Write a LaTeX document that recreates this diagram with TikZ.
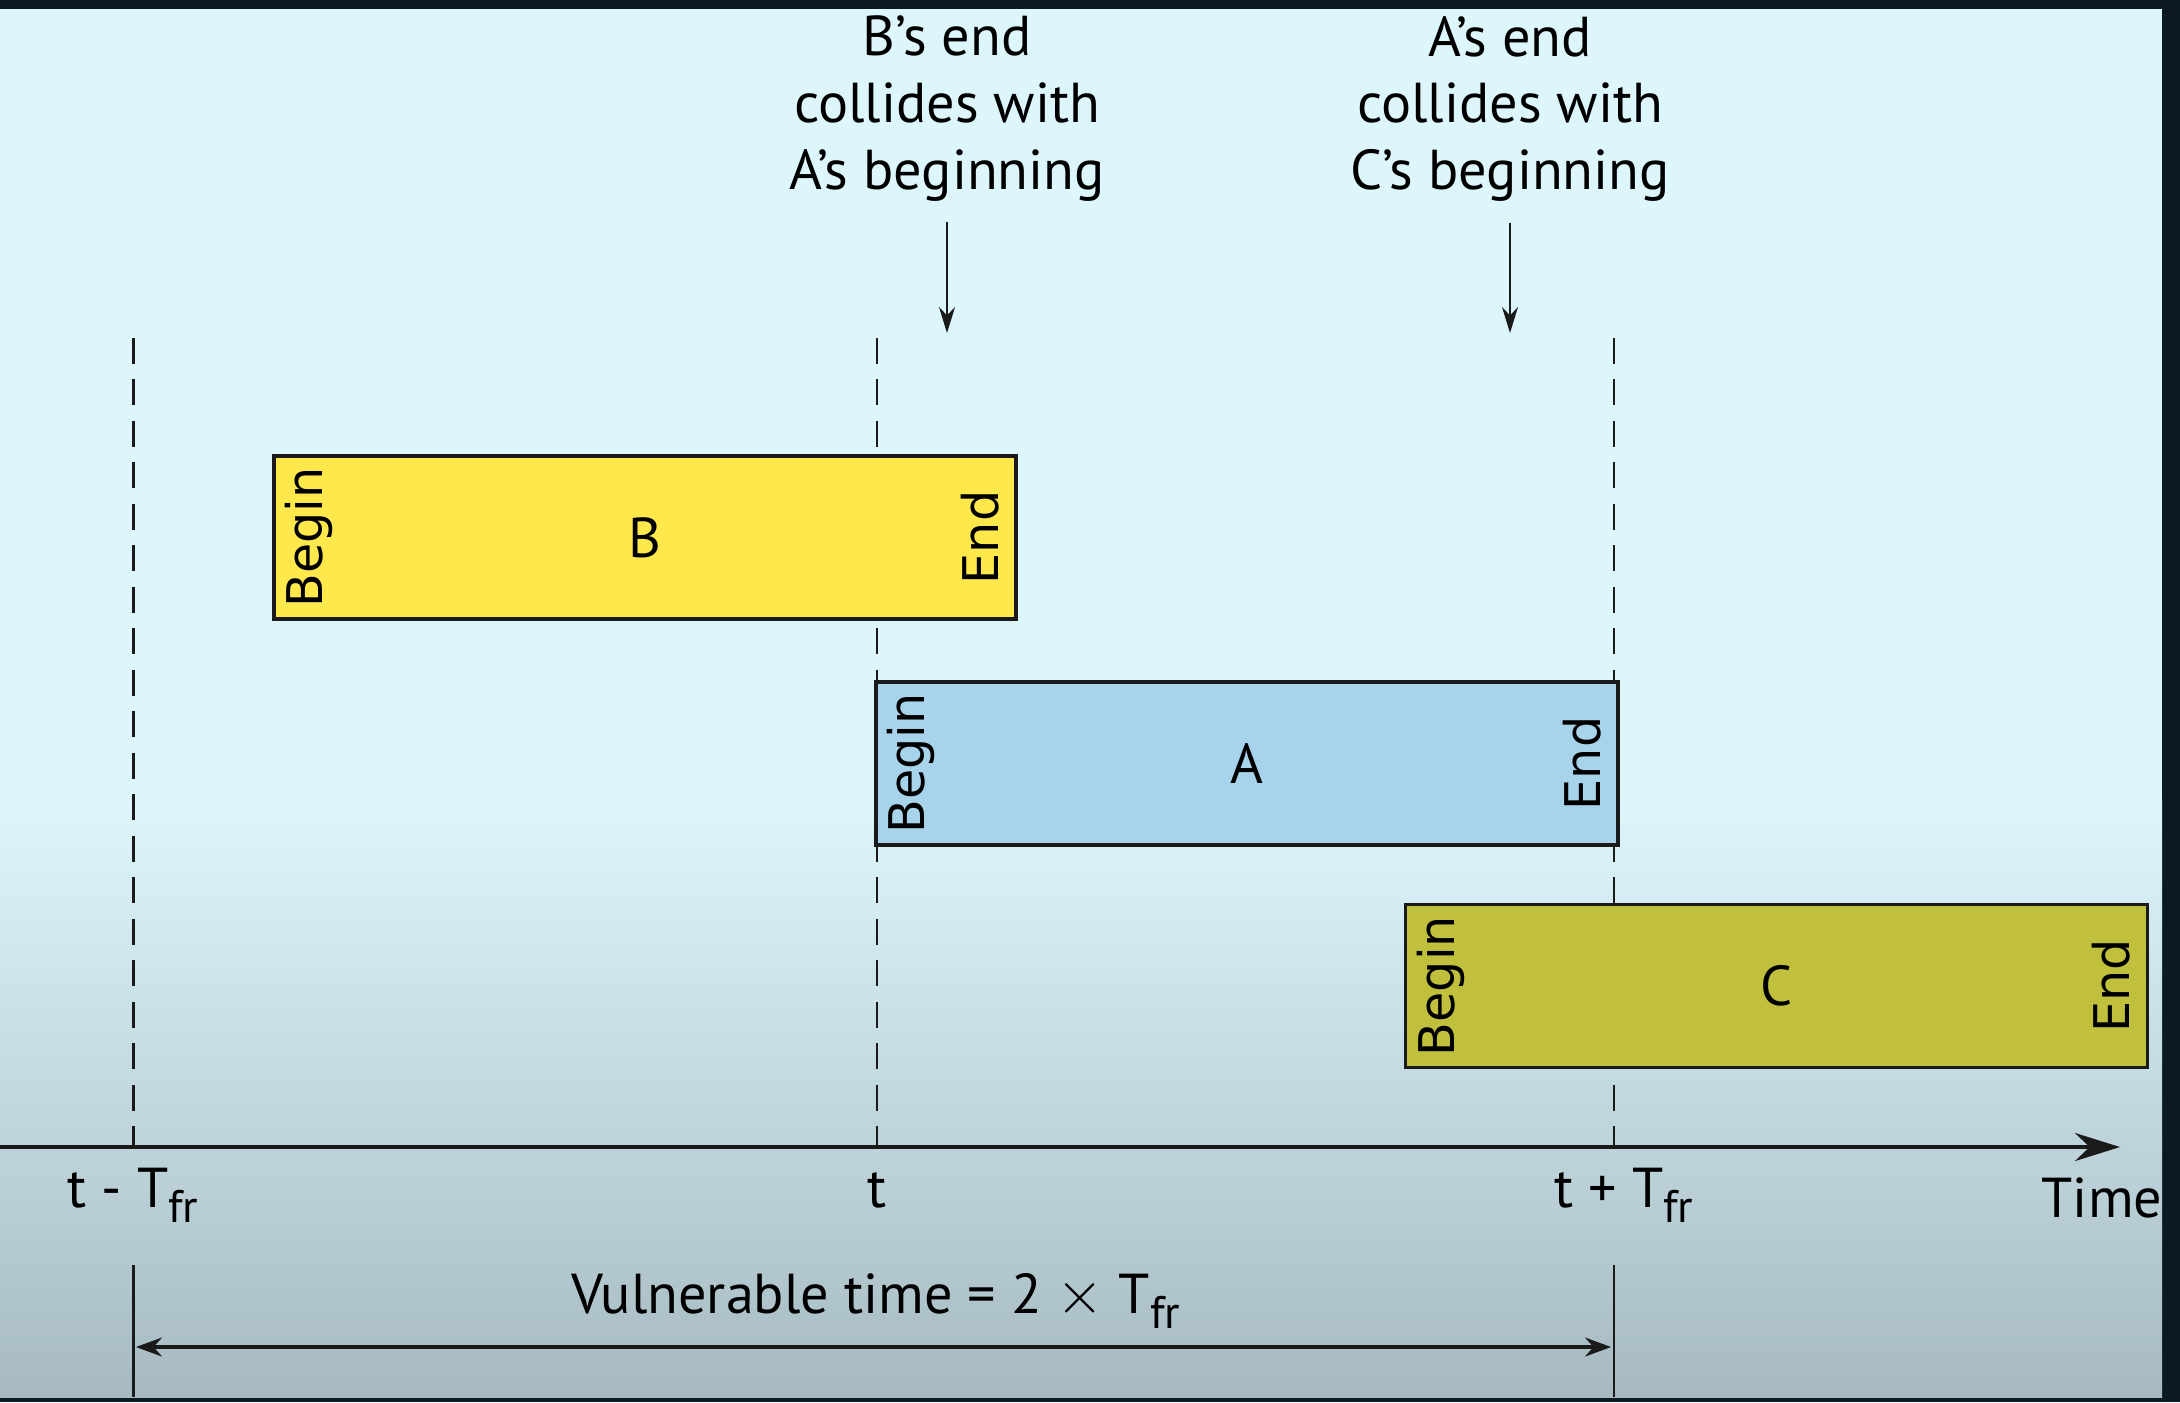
\documentclass[tikz,border=0pt]{standalone}
\usepackage{fontspec}
\setmainfont{PT Sans}
\newfontfamily\tagfont{DejaVu Sans}
\usetikzlibrary{arrows.meta,calc}
\usepackage{xcolor}
\definecolor{skytop}{HTML}{DDF6FC}
\definecolor{skybot}{HTML}{A7BAC2}
\definecolor{vframe}{HTML}{0B1A20}
\definecolor{fillB}{HTML}{FFE84B}
\definecolor{fillA}{HTML}{A7D3EB}
\definecolor{fillC}{HTML}{C1C03D}
\definecolor{ink}{HTML}{1A1A1A}
\newcommand{\tfr}{T\raisebox{-4.5pt}{\fontsize{13}{13}\selectfont fr}}

\begin{document}
\begin{tikzpicture}[>={Stealth[length=2.6mm,width=1.6mm]},semithick,
	frame/.style={draw=ink,line width=1pt,minimum width=7.42cm,minimum height=1.63cm,inner sep=0pt},
	tagbeg/.style={rotate=90,anchor=north,inner sep=1.2mm,font=\tagfont\fontsize{14}{14}\selectfont},
	tagend/.style={rotate=90,anchor=south,inner sep=1.8mm,font=\tagfont\fontsize{14}{14}\selectfont},
	lbl/.style={font=\fontsize{16}{19}\selectfont,inner sep=0pt},
	vline/.style={draw=ink,line width=0.8pt,dash pattern=on 7.4pt off 4.4pt}]
		\useasboundingbox (0,0) rectangle (21.8,-14.02);
		\fill[vframe] (0,0) rectangle (21.8,-14.02);
		\fill[skytop] (0,-0.09) rectangle (21.62,-8.0);
		\shade[top color=skytop,bottom color=skybot] (0,-7.99) rectangle (21.62,-13.97);
		
		% time marks
		\foreach \n/\x in {tm/1.335,t0/8.77,tp/16.14} {
			\coordinate (\n top) at (\x,-3.38);
			\coordinate (\n ax) at (\x,-11.47);
			\draw[vline] (\n top) -- (\n ax);
		}
		\coordinate (axl) at (0,-11.47);
		\coordinate (axr) at (21.2,-11.47);
		\draw[-{Stealth[length=4.5mm,width=2.8mm]},draw=ink,line width=1.1pt] (axl) -- (axr);
		
		% frames
		\node[frame,fill=fillB] (B) at (6.45,-5.375) {\fontsize{16}{19}\selectfont B};
		\node[frame,fill=fillA] (A) at (12.47,-7.635) {\fontsize{16}{19}\selectfont A};
		\node[frame,fill=fillC] (C) at (17.765,-9.86) {\fontsize{16}{19}\selectfont C};
		\foreach \f in {B,A,C} {
			\node[tagbeg] at (\f.west) {Begin};
			\node[tagend] at (\f.east) {End};
		}
		
		% collisions
		\node[lbl,align=center,anchor=north] (bnote) at (9.47,-0.15) {B’s end\\collides with\\A’s beginning};
		\node[lbl,align=center,anchor=north] (anote) at (15.10,-0.15) {A’s end\\collides with\\C’s beginning};
		\coordinate (bhit) at (9.47,-3.33);
		\coordinate (ahit) at (15.10,-3.33);
		\draw[->,draw=ink,line width=0.6pt] ($(bnote.south)+(0,-0.2)$) -- (bhit);
		\draw[->,draw=ink,line width=0.6pt] ($(anote.south)+(0,-0.2)$) -- (ahit);
		
		% axis labels
		\node[lbl,anchor=base] (lm) at (1.33,-12.07) {t - \tfr};
		\node[lbl,anchor=base] (l0) at (8.77,-12.07) {t};
		\node[lbl,anchor=base] (lp) at (16.24,-12.07) {t + \tfr};
		\node[lbl,anchor=base] (ltime) at (21.02,-12.17) {Time};
		
		% vulnerable span
		\coordinate (vta) at (1.335,-12.65);
		\coordinate (vtb) at (1.335,-13.97);
		\coordinate (vpa) at (16.14,-12.65);
		\coordinate (vpb) at (16.14,-13.97);
		\draw[draw=ink,line width=0.6pt] (vta) -- (vtb);
		\draw[draw=ink,line width=0.6pt] (vpa) -- (vpb);
		\coordinate (vla) at (1.36,-13.47);
		\coordinate (vlb) at (16.11,-13.47);
		\draw[{Stealth[length=2.6mm,width=1.9mm]}-{Stealth[length=2.6mm,width=1.9mm]},draw=ink,line width=0.9pt] (vla) -- (vlb);
		\node[lbl,anchor=base] (vnote) at (8.76,-13.13) {Vulnerable time = 2 $\times$ \tfr};
\end{tikzpicture}
\end{document}
